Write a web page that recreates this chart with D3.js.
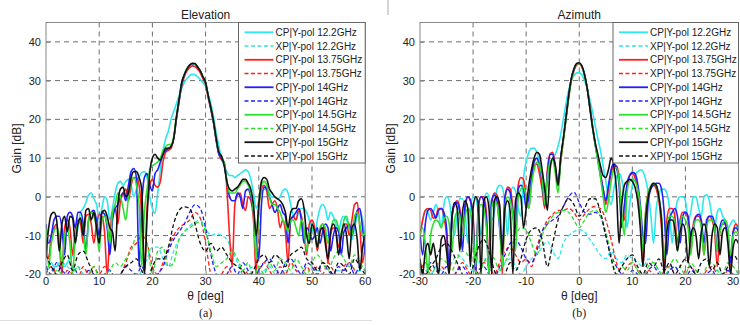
<!DOCTYPE html>
<html lang="en">
<head>
<meta charset="UTF-8">
<title>Elevation / Azimuth gain</title>
<script src="https://d3js.org/d3.v7.min.js"></script>
<style>
  body { margin: 0; background: #fff; font-family: "Liberation Sans", Arial, Helvetica, sans-serif; }
  svg { display: block; }
  .tick-label { font-size: 11px; fill: #222; }
  .legend text { font-size: 10px; fill: #222; }
</style>
</head>
<body>
<div id="chart"></div>
<script>
// ---------- data ----------
const legendLabels = [
  "CP|Y-pol 12.2GHz", "XP|Y-pol 12.2GHz",
  "CP|Y-pol 13.75GHz", "XP|Y-pol 13.75GHz",
  "CP|Y-pol 14GHz", "XP|Y-pol 14GHz",
  "CP|Y-pol 14.5GHz", "XP|Y-pol 14.5GHz",
  "CP|Y-pol 15GHz", "XP|Y-pol 15GHz"
];
const gainTicks = [-20, -10, 0, 10, 20, 30, 40];
const elTicks = [0, 10, 20, 30, 40, 50, 60];
const azTicks = [-30, -20, -10, 0, 10, 20, 30];

// sampling grids: CP every 0.5 deg, XP every 1 deg
const elThetaCP = d3.range(0, 60.25, 0.5);
const elThetaXP = d3.range(0, 60.5, 1);
const azThetaCP = d3.range(-30, 30.25, 0.5);
const azThetaXP = d3.range(-30, 30.5, 1);

// Elevation, co-pol
const elCP122 = [
  -18,-18,-17,-18,-18,-17,-18,-18,-17,-16,
  -15,-12,-8,-4,-3,-1.5,0.5,1,-0.5,-2,
  -6,-3,0,-1,-6,-3,1,3.5,4,3,
  4,4.5,3,0,2,5,6.3,6.5,5,0,
  -3,-4.3,1,7,12,15,17,20,22,24,
  26,28,29.5,30.5,31.3,31.6,31.5,31,30.3,29.5,
  28.5,26.5,24,20.5,16.5,13,10,8,6.5,5.5,
  5.5,5,5.5,6,6.5,7,6.5,4.5,1,-3,
  -1,1,2,2,1,0,0,-0.5,0,1.5,
  2,1,-2,-5,-6,-4,-3,-3,-4,-6,
  -8,-10,-6,-3,-2,-3,-6,-4,-5,-7,
  -9,-6,-5,-6,-8,-11,-8,-5,-3.5,-6,
  -10
];
const elCP1375 = [
  -12,-16,-10,-8,-7,-12,-20,-8,-6,-8,
  -15,-9,-6,-7,-12,-5,-4.5,-7,-12,-7,
  -4.5,-5,-9,-20,-10,-4,-3,-7,-1,1,
  2,-1,3,5,5,3,-5,-20,-3,3,
  4.5,3,2.5,4,9,11.5,12,12.5,15,20,
  24.5,28.5,31,32.5,33.3,33.8,33.6,33,32,30.5,
  29,25.5,22.5,19,14.5,11,9.5,9,2,-10,
  -18,-2,0.5,1,-2,-3.5,0,-1,-6,-20,
  -3,2,3,1.5,-3,-2,-1,-3,-8,-6,
  -9,-17,-6,-5,-6,-3,-5,-9,-15,-7,
  -6,-8,-14,-9,-7,-10,-17,-10,-8,-9,
  -13,-10,-7,-7,-10,-6,-2,-1.5,-8,-17,
  -12
];
const elCP14 = [
  -7,-12,-10,-6,-5,-5,-8,-15,-5,-4,
  -5,-8,-4,-4,-7,-14,-6,-4,-3.5,-6,
  -10,-4,-4.5,-8,-15,-6,-3,-2,0,1,
  -1,3,6.5,7.3,5,-18,-2,5,6,3,
  1.5,6,7,9,11,12,12.5,13,15,20,
  24.5,29,31.5,33,34,34.3,34.2,33.5,32.5,31,
  29.5,26,22.5,19,14.5,11,10,8.5,4,0,
  -1,-1,1,0,-3,1.5,2,0,-4,-10,
  -16,-2,2.5,2,0,-2,-4,-3,-2,-4,
  -5,-12,-6,-5,-4,-3,-6,-12,-8,-9,
  -11,-10,-8,-12,-9,-7,-8,-14,-10,-8,
  -9,-15,-9,-8,-7,-10,-7,-3.5,-3,-8,
  -15
];
const elCP145 = [
  -8,-18,-12,-9,-8,-10,-18,-10,-8,-12,
  -20,-10,-7,-6,-9,-15,-6,-4,-5,-8,
  -14,-6,-5,-7,-12,-4,-2,1,0,-3,
  -6,0,4,5,3,-2,-18,-4,2,7,
  8,8.5,9,10,12,13,13.5,13.5,15.5,20.5,
  25,29.5,31.5,33,34,34.4,34.3,33.5,32.5,31,
  29.5,26,23,19.5,15,11.5,10.5,8.5,4,1,
  1,1,2,3,4,4,3,1,-4,-16,
  -3,3,4,3,0,-2,-2,-3,-4,-6,
  -7,-9,-6,-6,-8,-10,-6,-8,-14,-9,
  -8,-9,-13,-8,-7,-8,-12,-9,-6,-6,
  -8,-10,-6,-5,-8,-10,-5,-4,-7,-10,
  -9
];
const elCP15 = [
  -15,-8,-4.5,-4,-6,-14,-7,-5,-9,-5,
  -5.5,-12,-7,-5.5,-10,-3.5,-3,-6,-4,-8,
  -12,-4,-3.5,-5,-8,-9,-14,-2,2,2.5,
  0,1,5,6.5,6.5,5,2,-20,-5,6,
  10,11,10,9.5,11,12.5,12.5,13,15,20.5,
  25,29.5,31.5,33,34,34.5,34.4,33.5,32.5,31,
  29.5,26,23,19.5,15,11.5,10.5,8,4,2,
  1.5,2,2.5,3.5,4.5,4.5,3.5,2,-2,-10,
  -2,4,5,4.5,2,1,0,-0.5,-1,-2,
  -4,-8,-4,-3,-3,-1,-0.5,-3,-10,-12,
  -7,-9,-13,-9,-8,-12,-16,-9,-7,-9,
  -15,-10,-7,-10,-16,-8,-7,-11,-19,-13,
  -10
];

// Elevation, cross-pol
const elXP122 = [
  -18,-19,-18,-17,-18,-19,-18,-20,-21,-20,
  -22,-21,-22,-20,-21,-22,-20,-21,-19,-16,
  -13,-13,-16,-18,-14,-11,-9,-7.5,-6.5,-6,
  -8,-10,-9.5,-10,-11,-14,-17,-20,-19,-18,
  -20,-19,-18,-20,-21,-19,-20,-19,-20,-21,
  -20,-19,-20,-21,-20,-19,-20,-21,-20,-19,
  -20
];
const elXP1375 = [
  -20,-18,-20,-22,-19,-20,-21,-18,-20,-18,
  -20,-18,-19,-21,-20,-17,-13,-12,-10,-12,
  -18,-20,-17,-13,-10,-8,-7,-6,-4,-5.5,
  -12,-20,-22,-20,-18,-20,-22,-19,-20,-22,
  -19,-17,-19,-21,-18,-20,-17,-19,-21,-18,
  -20,-18,-20,-17,-19,-21,-18,-17,-19,-22,
  -20
];
const elXP14 = [
  -18,-20,-17,-19,-20,-18,-20,-21,-19,-20,
  -22,-20,-19,-21,-20,-18,-19,-20,-18,-21,
  -22,-20,-18,-14,-11,-9,-7,-4,-2,-3,
  -8,-15,-20,-22,-20,-18,-20,-17,-19,-21,
  -19,-17,-16,-18,-20,-17,-16,-18,-20,-17,
  -18,-20,-17,-19,-20,-18,-19,-17,-20,-18,
  -19
];
const elXP145 = [
  -20,-22,-19,-20,-22,-20,-18,-21,-20,-18,
  -21,-20,-19,-17,-18,-16,-14,-10,-9.5,-12,
  -20,-14,-13,-18,-17,-11,-9,-8,-7,-6.5,
  -9,-14,-18,-17,-16,-14,-16,-19,-17,-21,
  -18,-20,-17,-19,-16,-17,-19,-16,-18,-20,
  -17,-15,-17,-19,-16,-14,-16,-18,-15,-17,
  -19
];
const elXP15 = [
  -15,-18,-20,-17,-15,-19,-15,-14,-17,-20,
  -22,-20,-22,-22,-20,-18,-17,-16,-19,-22,
  -18,-16,-16,-13,-7,-3.5,-2.6,-3,-7,-12,
  -14,-12,-14,-13,-15,-17,-18,-19,-21,-19,
  -16,-15,-17,-15,-16,-18,-15,-14,-13,-16,
  -17,-19,-17,-18,-20,-17,-18,-20,-16,-18,
  -20
];

// Azimuth, co-pol
const azCP122 = [
  -10,-6,-3.5,-4,-6,-4,-2,-4,-8,-2,
  0,-1,-6,-10,-4,-0.5,-0.5,-4,-12,-3,
  0,-0.5,-4,-10,-2,1,0,-6,-4,2,
  3,2.5,-2,-10,0,2.5,1.5,-3,-5,5,
  9,11.5,12.5,12.5,11.5,9,5,1,4,8,
  10,11,13,16,20,24,27.5,30,31.3,32,
  32,31.5,30,28,25,22,18.5,15,12,8,
  4,0,-2,2,5,6,4.5,0,-8,-2,
  3,5.5,6.5,7,6.5,4.5,1,-5,-12,-3,
  0.5,2,2,1,-3,-12,-5,-1,0,0,
  -1,-6,-4,0,0,-3,-5,0,0.5,-1,
  -5,-8,-4,-3,-5,-6,-8,-7,-6,-7,
  -9
];
const azCP1375 = [
  -10,-6,-3.5,-3,-3.5,-5.5,-5,-3,-3,-5,
  -10,-20,-6,-2,-1,-3,-10,-3,0,-1,
  -5,-20,-3,0,0,-4,-18,-2,1,0.5,
  -4,-20,-1,2.5,2,-3,-10,3,5,4.5,
  0,-3,4,8,8.5,6,2,-3,7,11,
  11.5,8,3,9,14.5,20,25.5,30,32.5,34,
  34.3,33.5,31.5,28,23.5,18.5,14,10,6,2,
  -2,2,6,8,8,5,-5,-6,3,5.5,
  6,5,2,-5,-18,-4,1,2.5,3,2,
  -1,-8,-18,-6,-3,-3,-5,-12,-6,-4,
  -4,-6,-14,-7,-5,-5,-7,-15,-7,-5,
  -6,-9,-18,-9,-7,-7,-10,-18,-9,-7,
  -8
];
const azCP14 = [
  -9,-15,-7,-3.5,-3,-4,-5.5,-3.5,-3,-4,
  -8,-18,-5,-2,-1.5,-4,-14,-2,0,-1,
  -6,-20,-2,0,-1,-6,-20,-1,0.5,-1,
  -8,-14,0,2,1,-5,-8,2,3,2,
  -3,0,5,9,10,8,4,-2,6,11,
  11,7,3,10,15,20.5,26,30.5,33,34.2,
  34.5,33.7,31.5,28,23,18,13.5,9.5,5.5,2,
  -1,3,7,8.5,7.5,3,-8,-2,3,5.5,
  6.3,6,3.5,-2,-10,-12,-1,2,3,3.5,
  3.5,2,-4,-15,-6,-4,-3,-5,-12,-5,
  -4,-5,-10,-8,-5,-4.5,-6,-12,-6,-5,
  -5,-7,-14,-8,-6,-7,-10,-17,-9,-8,
  -9
];
const azCP145 = [
  -10,-8,-12,-20,-10,-7,-6,-6.5,-8,-6,
  -5,-7,-14,-6,-4,-5,-10,-5,-3,-4,
  -9,-18,-4,-2,-3,-8,-20,-3,-1,-2,
  -7,-18,-3,0,-1,-5,-14,0,2,2.5,
  0,-3,3,7,9,8,5,-2,5,9,
  9.5,6,1,9,14.5,20,25.5,30,32.8,34.2,
  34.4,33.6,31.5,28,23,18,13.5,9.5,5,0,
  -4,-1,4,7,7.5,4,-4,-10,1,4,
  4.5,4,2,-3,-14,-4,1,3,3.5,3,
  0,-5,-16,-8,-5,-5,-7,-14,-7,-5,
  -6,-8,-15,-8,-6,-6,-8,-15,-8,-6,
  -6,-8,-14,-9,-7,-6,-8,-15,-10,-9,
  -10
];
const azCP15 = [
  -16,-20,-14,-12,-15,-12,-16,-20,-11,-10,
  -14,-20,-6,-1.5,-3,-14,-4,-1,-3,-18,
  -3,0,-2,-20,-1,0,-3,-20,-1,0,
  -2,-15,-3,-1,-4,-20,-1,1,0,-8,
  -3,3,7,10,11.5,11,7,2,-3.5,7,
  10,8,3,10,15,20.5,26,30.5,33,34.4,
  34.6,33.8,31.5,28,23,18,14,11,8,5.5,
  5,7,10,8,2,-12,-2,3,4,4.5,
  4,2.5,-1,-8,-18,-6,0,2.5,3.5,3,
  0,-6,-20,-9,-6,-6,-8,-14,-9,-7,
  -9,-17,-10,-8,-10,-16,-9,-7,-9,-18,
  -10,-7,-8,-15,-9,-8,-12,-20,-13,-11,
  -12
];

// Azimuth, cross-pol
const azXP122 = [
  -20,-19,-20,-18,-19,-20,-17,-15,-16,-18,
  -19,-17,-16,-18,-20,-19,-17,-16,-18,-20,
  -18,-16,-15,-13,-11.5,-14,-16,-12,-10,-9,
  -8.5,-9,-11,-13,-15,-16,-14,-16,-17,-15,
  -16,-17,-18,-16,-17,-19,-20,-19,-18,-20,
  -21,-20,-19,-20,-21,-20,-19,-20,-21,-20,
  -19
];
const azXP1375 = [
  -20,-17,-19,-21,-18,-20,-22,-19,-17,-19,
  -21,-20,-17,-18,-20,-17,-14,-13,-15,-17,
  -16,-18,-13,-9,-6,-4.5,-3.5,-3.5,-3,-4,
  -6,-4.5,-3,-2.5,-3,-6,-11,-17,-20,-18,
  -17,-19,-21,-19,-20,-22,-19,-18,-20,-21,
  -19,-18,-20,-21,-19,-18,-20,-21,-19,-20,
  -21
];
const azXP14 = [
  -18,-20,-17,-19,-20,-18,-21,-19,-18,-20,
  -22,-19,-18,-20,-21,-18,-15,-12,-11,-13,
  -16,-17,-14,-9,-7,-6,-5,-2.5,0,1.2,
  -1.5,-4,-4.5,-4,-5,-10,-15,-18,-20,-21,
  -19,-20,-22,-19,-18,-20,-21,-19,-18,-20,
  -21,-19,-20,-22,-20,-19,-21,-20,-19,-21,
  -20
];
const azXP145 = [
  -19,-17,-20,-18,-16,-17,-19,-16,-14,-15,
  -18,-20,-17,-15,-16,-19,-17,-14,-10,-8,
  -8.5,-12,-15,-10,-7,-5,-4,-3.5,-4,-6,
  -8,-6,-4,-3.5,-5,-9,-15,-20,-18,-19,
  -17,-19,-21,-18,-17,-19,-21,-18,-16,-18,
  -20,-17,-19,-21,-18,-17,-19,-20,-17,-18,
  -20
];
const azXP15 = [
  -17,-20,-18,-16,-13,-12,-14,-17,-20,-22,
  -18,-13,-11,-14,-19,-22,-20,-17,-19,-16,
  -11,-8.5,-8,-11,-18,-12,-6,-2.5,-0.5,-2,
  -5,-3,-0.5,-0.5,-4,-10,-16,-20,-18,-16,
  -15,-18,-20,-17,-18,-16,-19,-17,-20,-18,
  -16,-18,-20,-17,-16,-19,-17,-20,-18,-15,
  -17
];

// ---------- style ----------
const palette = ["#2ee6f0", "#2ee6f0", "#ff1f1f", "#ff1f1f", "#1f1fff", "#1f1fff",
                 "#2ee02e", "#2ee02e", "#111111", "#111111"];
const W = 740, H = 325;

const svg = d3.select("#chart").append("svg")
  .attr("width", W).attr("height", H)
  .style("font-family", "'Liberation Sans', Arial, Helvetica, sans-serif");

function zipSeries(xs, ys) { return xs.map((x, i) => [x, ys[i]]); }

function drawPanel(p) {
  const x = d3.scaleLinear().domain(p.xDomain).range([p.left, p.right]);
  const y = d3.scaleLinear().domain([-20, 45]).range([274.3, 22.5]);
  const g = svg.append("g");
  const clipId = "clip-" + p.id;

  g.append("clipPath").attr("id", clipId).append("rect")
    .attr("x", p.left).attr("y", y(45))
    .attr("width", p.right - p.left).attr("height", y(-20) - y(45));

  // dashed grid
  g.append("g").selectAll("line").data(p.xTicks.slice(1, -1)).join("line")
    .attr("x1", d => x(d)).attr("x2", d => x(d))
    .attr("y1", y(45)).attr("y2", y(-20))
    .attr("stroke", "#6e6e6e").attr("stroke-width", 1).attr("stroke-dasharray", "5,4");
  g.append("g").selectAll("line").data(gainTicks.slice(1)).join("line")
    .attr("x1", p.left).attr("x2", p.right)
    .attr("y1", d => y(d)).attr("y2", d => y(d))
    .attr("stroke", "#6e6e6e").attr("stroke-width", 1).attr("stroke-dasharray", "5,4");

  // curves
  const line = d3.line().x(d => x(d[0])).y(d => y(d[1])).curve(d3.curveMonotoneX);
  const curves = g.append("g").attr("clip-path", `url(#${clipId})`);
  p.series.forEach((s, i) => {
    curves.append("path")
      .datum(zipSeries(s.theta, s.values))
      .attr("fill", "none")
      .attr("stroke", palette[i])
      .attr("stroke-width", i % 2 === 0 ? 1.6 : 1.3)
      .attr("stroke-dasharray", i % 2 === 0 ? null : "4,2.5")
      .attr("stroke-linejoin", "round")
      .attr("d", line);
  });

  // axes box with inward ticks
  g.append("rect")
    .attr("x", p.left).attr("y", y(45))
    .attr("width", p.right - p.left).attr("height", y(-20) - y(45))
    .attr("fill", "none").attr("stroke", "#888").attr("stroke-width", 1);
  const xAxis = d3.axisBottom(x).tickValues(p.xTicks).tickSize(-4).tickFormat("");
  g.append("g").attr("transform", `translate(0,${y(-20)})`).call(xAxis)
    .call(a => a.select(".domain").remove())
    .selectAll("line").attr("stroke", "#888");
  const yAxis = d3.axisLeft(y).tickValues(gainTicks).tickSize(-4).tickFormat("");
  g.append("g").attr("transform", `translate(${p.left},0)`).call(yAxis)
    .call(a => a.select(".domain").remove())
    .selectAll("line").attr("stroke", "#888");

  // tick labels (the last one is nudged inside the page edge)
  g.append("g").selectAll("text").data(p.xTicks).join("text")
    .attr("class", "tick-label")
    .attr("x", d => Math.min(x(d), W - 7)).attr("y", y(-20) + 11)
    .attr("text-anchor", "middle")
    .text(d => d);
  g.append("g").selectAll("text").data(gainTicks).join("text")
    .attr("class", "tick-label")
    .attr("x", p.left - 5).attr("y", d => y(d) + 4)
    .attr("text-anchor", "end")
    .text(d => d);

  // titles
  const cx = (p.left + p.right) / 2;
  g.append("text").attr("x", cx).attr("y", 19).attr("text-anchor", "middle")
    .style("font-size", "12px").attr("fill", "#222").text(p.title);
  g.append("text").attr("x", cx).attr("y", 300).attr("text-anchor", "middle")
    .style("font-size", "12px").attr("fill", "#222").text("θ [deg]");
  g.append("text").attr("transform", `translate(${p.left - 25},${y(12.5)}) rotate(-90)`)
    .attr("text-anchor", "middle")
    .style("font-size", "12px").attr("fill", "#222").text("Gain [dB]");
  g.append("text").attr("x", cx).attr("y", 317).attr("text-anchor", "middle")
    .style("font-size", "12px").style("font-family", "'Liberation Serif', 'Times New Roman', serif")
    .attr("fill", "#222").text(p.caption);

  // legend
  const lg = g.append("g").attr("class", "legend");
  const lx = p.legendLeft;
  lg.append("rect")
    .attr("x", lx).attr("y", y(45))
    .attr("width", p.right - lx).attr("height", 163 - y(45))
    .attr("fill", "#fff").attr("stroke", "#666").attr("stroke-width", 1);
  legendLabels.forEach((lab, i) => {
    const ly = 32.3 + i * 13.74;
    lg.append("line")
      .attr("x1", lx + 6).attr("x2", lx + 35).attr("y1", ly).attr("y2", ly)
      .attr("stroke", palette[i])
      .attr("stroke-width", i % 2 === 0 ? 1.8 : 1.5)
      .attr("stroke-dasharray", i % 2 === 0 ? null : "4,2.5");
    lg.append("text").attr("x", lx + 37).attr("y", ly + 3.6).text(lab);
  });
}

drawPanel({
  id: "el", title: "Elevation", caption: "(a)",
  xDomain: [0, 60], left: 46, right: 365.2, xTicks: elTicks, legendLeft: 238.5,
  series: [
    {theta: elThetaCP, values: elCP122}, {theta: elThetaXP, values: elXP122},
    {theta: elThetaCP, values: elCP1375}, {theta: elThetaXP, values: elXP1375},
    {theta: elThetaCP, values: elCP14}, {theta: elThetaXP, values: elXP14},
    {theta: elThetaCP, values: elCP145}, {theta: elThetaXP, values: elXP145},
    {theta: elThetaCP, values: elCP15}, {theta: elThetaXP, values: elXP15}
  ]
});

drawPanel({
  id: "az", title: "Azimuth", caption: "(b)",
  xDomain: [-30, 30], left: 420, right: 738.5, xTicks: azTicks, legendLeft: 613,
  series: [
    {theta: azThetaCP, values: azCP122}, {theta: azThetaXP, values: azXP122},
    {theta: azThetaCP, values: azCP1375}, {theta: azThetaXP, values: azXP1375},
    {theta: azThetaCP, values: azCP14}, {theta: azThetaXP, values: azXP14},
    {theta: azThetaCP, values: azCP145}, {theta: azThetaXP, values: azXP145},
    {theta: azThetaCP, values: azCP15}, {theta: azThetaXP, values: azXP15}
  ]
});

// thin figure separators seen in the scan
svg.append("line").attr("x1", 388).attr("x2", 388).attr("y1", 0).attr("y2", 15)
  .attr("stroke", "#aaa").attr("stroke-width", 1);
svg.append("line").attr("x1", 0).attr("x2", 372).attr("y1", 320.5).attr("y2", 320.5)
  .attr("stroke", "#ddd").attr("stroke-width", 1);
</script>
</body>
</html>
